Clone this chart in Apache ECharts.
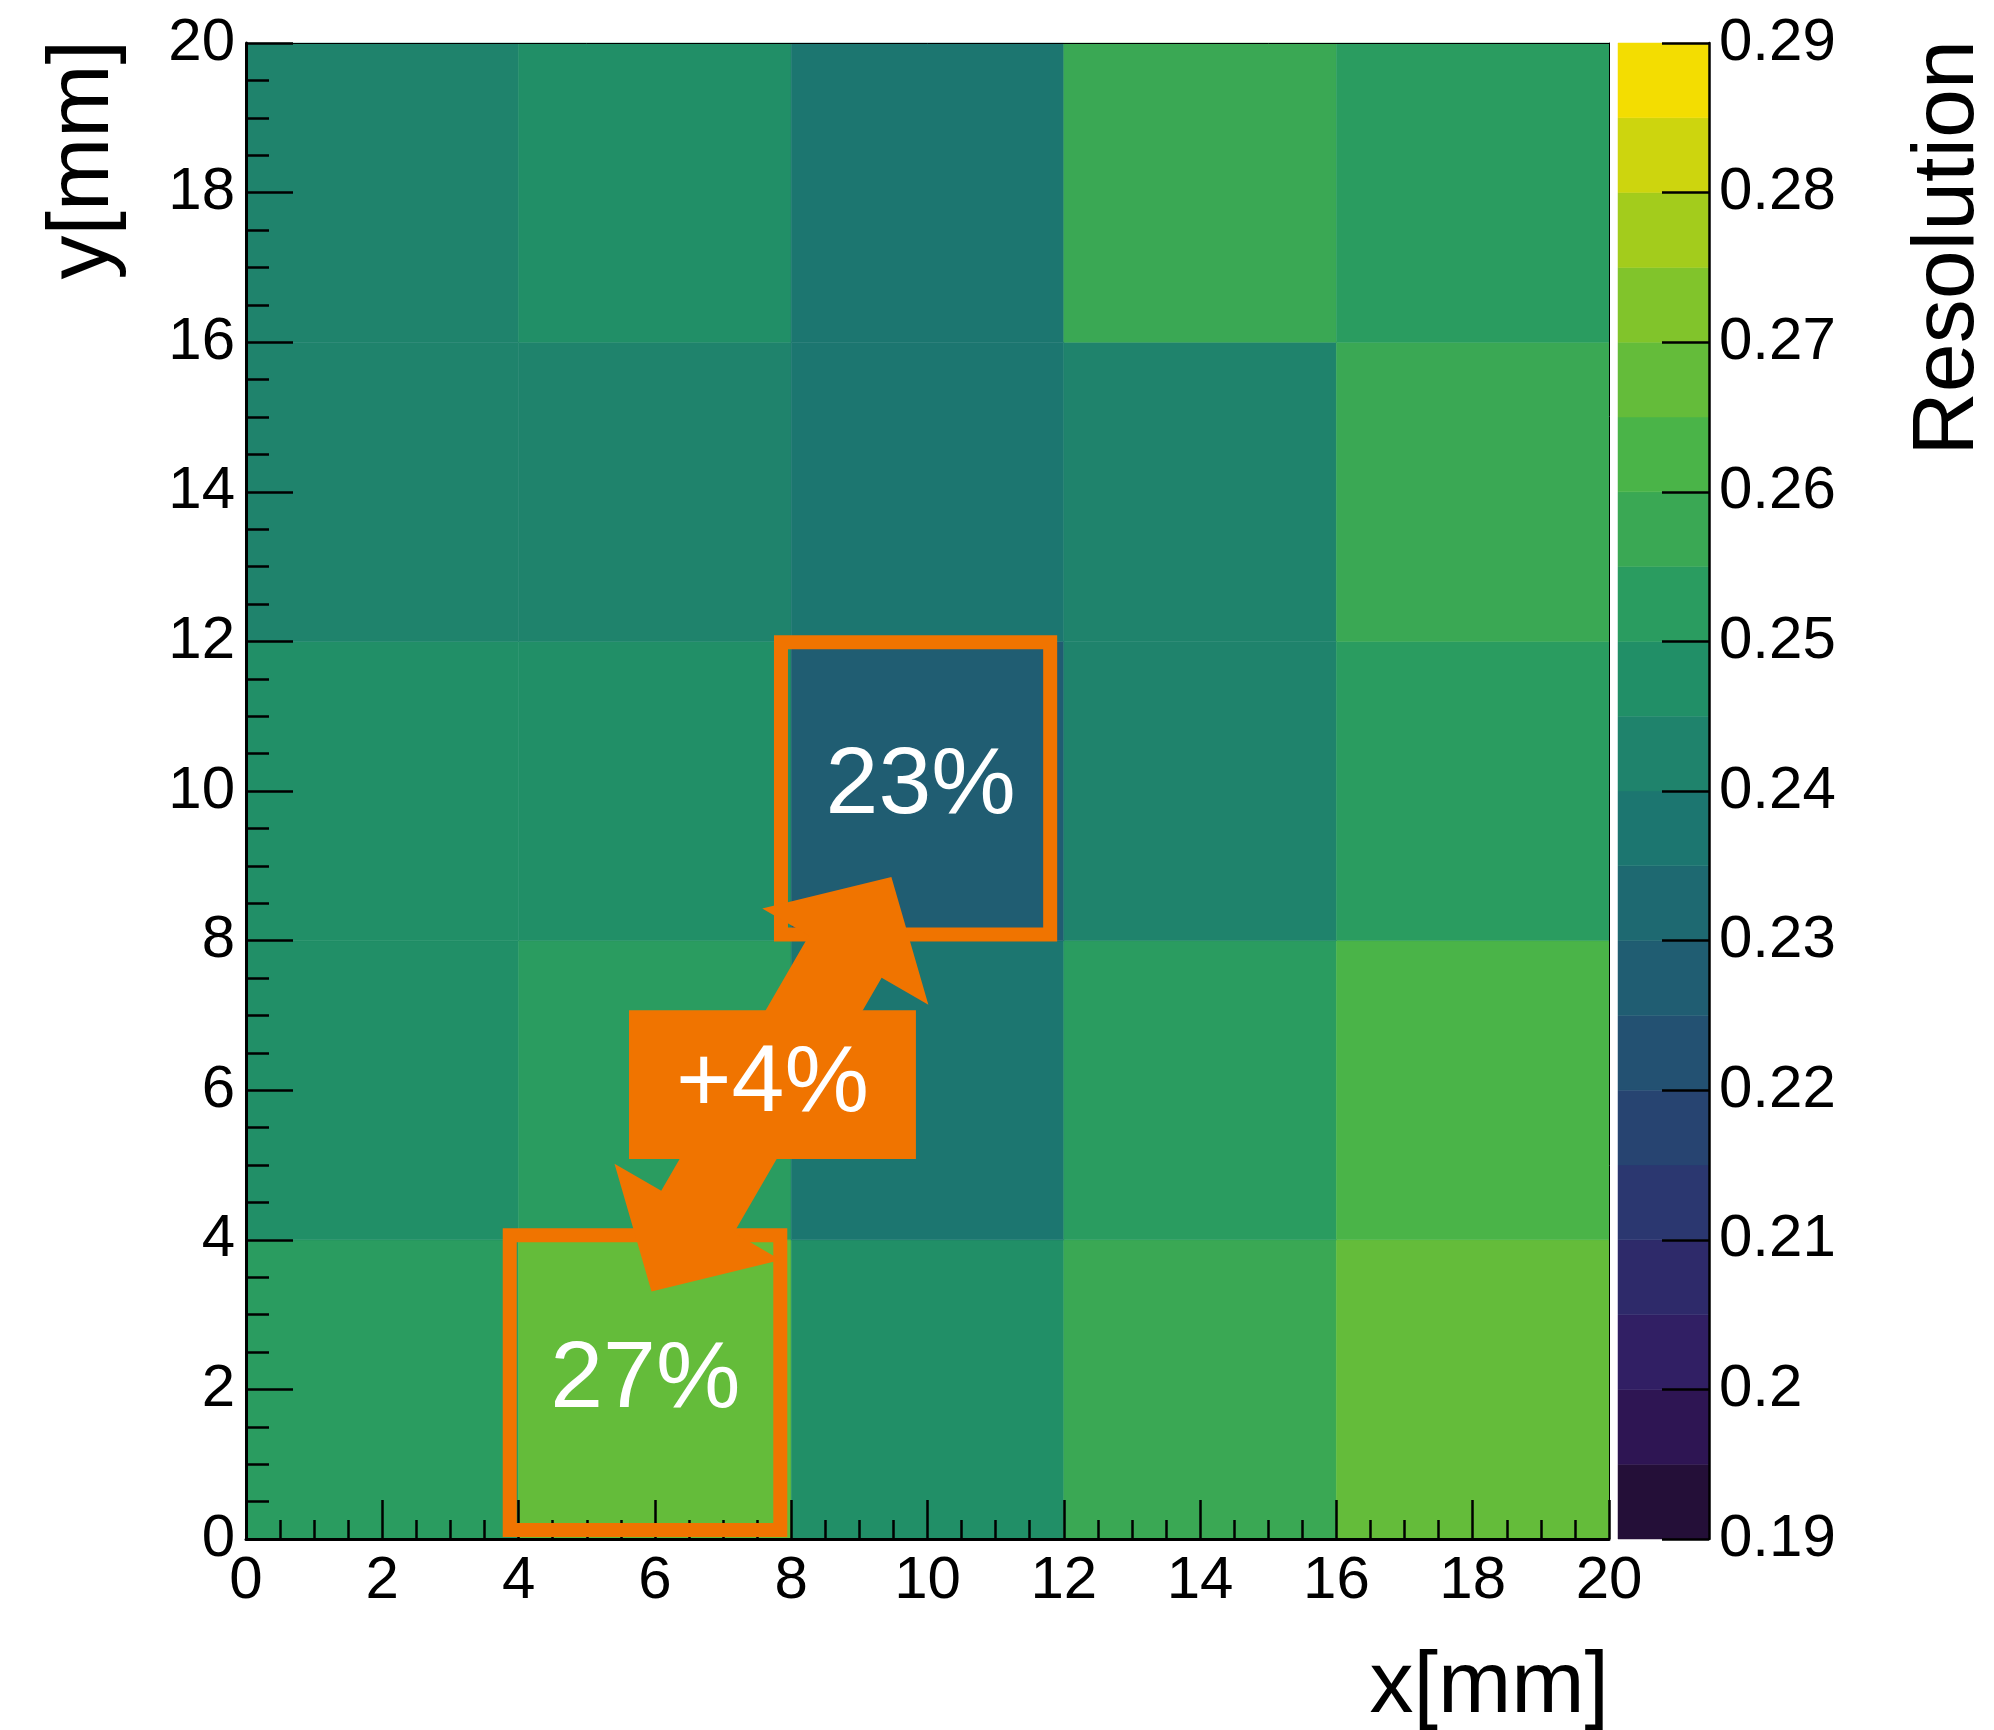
<!DOCTYPE html>
<html>
<head>
<meta charset="utf-8">
<title>Resolution map</title>
<script src="https://cdn.jsdelivr.net/npm/echarts@6/dist/echarts.min.js"></script>
<style>
  html, body { margin: 0; padding: 0; background: #fff; }
  #chart { width: 1994px; height: 1730px; }
</style>
</head>
<body>
<div id="chart"></div>
<script>
  // bin edges [mm]
  var xEdges = [0, 4, 8, 12, 16, 20]
  var yEdges = [0, 4, 8, 12, 16, 20]
  // resolution per bin, bottom row (y 0-4) first
  var resolution = [
    [0.252, 0.268, 0.247, 0.257, 0.268],
    [0.247, 0.252, 0.238, 0.252, 0.263],
    [0.247, 0.247, 0.228, 0.242, 0.252],
    [0.242, 0.242, 0.238, 0.242, 0.257],
    [0.242, 0.247, 0.238, 0.257, 0.252]
  ]
  // colour scale contours
  var zLevels = [0.19, 0.195, 0.2, 0.205, 0.21, 0.215, 0.22, 0.225, 0.23, 0.235, 0.24,
    0.245, 0.25, 0.255, 0.26, 0.265, 0.27, 0.275, 0.28, 0.285, 0.29]
  var palette = ['#240F38', '#2E1553', '#311F64', '#2E2A6A', '#2B3770', '#274471', '#235172',
    '#205D72', '#1E6971', '#1C7670', '#1F836C', '#218F67', '#2A9C60', '#3AA854', '#4AB448',
    '#64BC3A', '#81C42B', '#A3CC1C', '#CDD50E', '#F3DD01']

  // annotations (data coordinates)
  var box23 = [7.85, 8.08, 11.8, 11.99]
  var box27 = [3.87, 0.12, 7.84, 4.06]
  var tagBox = [5.62, 5.08, 9.83, 7.07]
  var arrowFrom = [5.95, 3.31]
  var arrowTo = [9.47, 8.85]
  var label23 = [9.9, 10.05]
  var label27 = [5.86, 2.12]

  var FONT = '"Liberation Sans", Arial, Helvetica, sans-serif'
  var ORANGE = '#F07400'

  var cells = []
  for (var j = 0; j < resolution.length; j++) {
    for (var i = 0; i < resolution[j].length; i++) {
      cells.push([(xEdges[i] + xEdges[i + 1]) / 2, (yEdges[j] + yEdges[j + 1]) / 2, resolution[j][i], i, j])
    }
  }
  var bands = []
  for (var k = 0; k < palette.length; k++) {
    bands.push([0.5, zLevels[k], zLevels[k + 1], k])
  }
  var pieces = bands.map(function (b) { return { gte: b[1], lt: b[2], color: palette[b[3]] } })

  function renderCell(params, api) {
    var i = api.value(3), j = api.value(4)
    var p0 = api.coord([xEdges[i], yEdges[j + 1]])
    var p1 = api.coord([xEdges[i + 1], yEdges[j]])
    var c = api.visual('color')
    return {
      type: 'rect',
      shape: { x: p0[0], y: p0[1], width: p1[0] - p0[0], height: p1[1] - p0[1] },
      style: { fill: c, stroke: c, lineWidth: 0.5 }
    }
  }
  function renderBand(params, api) {
    var p0 = api.coord([0, api.value(2)])
    var p1 = api.coord([1, api.value(1)])
    var c = palette[api.value(3)]
    return {
      type: 'rect',
      shape: { x: p0[0], y: p0[1], width: p1[0] - p0[0], height: p1[1] - p0[1] },
      style: { fill: c, stroke: c, lineWidth: 0.5 }
    }
  }

  var black = { color: '#000' }
  var option = {
    animation: false,
    backgroundColor: '#fff',
    grid: [
      { left: 246, top: 43, width: 1363, height: 1496, outerBoundsMode: 'none' },
      { left: 1618, top: 43, width: 91, height: 1496, outerBoundsMode: 'none' }
    ],
    visualMap: {
      type: 'piecewise', show: false, seriesIndex: 0, dimension: 2, pieces: pieces
    },
    xAxis: [{
      gridIndex: 0, type: 'value', min: 0, max: 20, interval: 2, z: 10,
      axisLine: { onZero: false, lineStyle: { color: '#000', width: 3 } },
      axisTick: { inside: true, length: 39, lineStyle: { color: '#000', width: 2.5 } },
      minorTick: { show: true, splitNumber: 4, length: 19, lineStyle: { color: '#000', width: 2.5 } },
      splitLine: { show: false },
      axisLabel: { fontSize: 60, color: '#000', fontFamily: FONT, margin: 12 }
    }, {
      gridIndex: 0, type: 'value', min: 0, max: 20, position: 'top', z: 10,
      axisLine: { onZero: false, lineStyle: { color: '#000', width: 1 } },
      axisTick: { show: false }, axisLabel: { show: false }, splitLine: { show: false }
    }, {
      gridIndex: 1, type: 'value', min: 0, max: 1, show: false
    }],
    yAxis: [{
      gridIndex: 0, type: 'value', min: 0, max: 20, interval: 2, z: 10,
      axisLine: { show: true, onZero: false, lineStyle: { color: '#000', width: 3 } },
      axisTick: { show: true, inside: true, length: 47, lineStyle: { color: '#000', width: 2.5 } },
      minorTick: { show: true, splitNumber: 4, length: 23, lineStyle: { color: '#000', width: 2.5 } },
      splitLine: { show: false },
      axisLabel: { fontSize: 60, color: '#000', fontFamily: FONT, margin: 11 }
    }, {
      gridIndex: 0, type: 'value', min: 0, max: 20, position: 'right', z: 10,
      axisLine: { show: true, onZero: false, lineStyle: { color: '#000', width: 1 } },
      axisTick: { show: false }, axisLabel: { show: false }, splitLine: { show: false }
    }, {
      gridIndex: 1, type: 'value', min: 0.19, max: 0.29, interval: 0.01, position: 'right', z: 10,
      axisLine: { show: true, onZero: false, lineStyle: { color: '#000', width: 2.5 } },
      axisTick: { show: true, inside: true, length: 47, lineStyle: { color: '#000', width: 2.5 } },
      splitLine: { show: false },
      axisLabel: {
        fontSize: 60, color: '#000', fontFamily: FONT, margin: 10,
        formatter: function (v) { return String(+v.toFixed(3)) }
      }
    }],
    series: [{
      type: 'custom', xAxisIndex: 0, yAxisIndex: 0,
      renderItem: renderCell, encode: { x: 0, y: 1 }, data: cells
    }, {
      type: 'custom', xAxisIndex: 2, yAxisIndex: 2,
      renderItem: renderBand, encode: { x: 0, y: [1, 2] }, data: bands
    }]
  }

  var chart = echarts.init(document.getElementById('chart'))
  chart.setOption(option)

  function px(p) { return chart.convertToPixel({ gridIndex: 0 }, p) }
  function rectFrom(b) {
    var p0 = px([b[0], b[3]]), p1 = px([b[2], b[1]])
    return { x: p0[0], y: p0[1], width: p1[0] - p0[0], height: p1[1] - p0[1] }
  }
  // double headed arrow, sizes in pixels
  function arrowPoints(from, to, headLen, headHalf, shaftHalf) {
    var a = px(from), b = px(to)
    var dx = b[0] - a[0], dy = b[1] - a[1]
    var len = Math.sqrt(dx * dx + dy * dy)
    var d = [dx / len, dy / len], n = [-d[1], d[0]]
    function pt(base, along, across) {
      return [base[0] + d[0] * along + n[0] * across, base[1] + d[1] * along + n[1] * across]
    }
    return [
      b, pt(b, -headLen, headHalf), pt(b, -headLen, shaftHalf),
      pt(a, headLen, shaftHalf), pt(a, headLen, headHalf), a,
      pt(a, headLen, -headHalf), pt(a, headLen, -shaftHalf),
      pt(b, -headLen, -shaftHalf), pt(b, -headLen, -headHalf)
    ]
  }
  function textAt(p, txt, size, color) {
    return {
      type: 'text', x: p[0], y: p[1], z: 120,
      style: { text: txt, font: size + 'px ' + FONT, fill: color, align: 'center', verticalAlign: 'middle' }
    }
  }

  var tagRect = rectFrom(tagBox)
  chart.setOption({
    graphic: [
      { type: 'rect', z: 100, shape: rectFrom(box23), style: { fill: 'none', stroke: ORANGE, lineWidth: 14 } },
      { type: 'rect', z: 100, shape: rectFrom(box27), style: { fill: 'none', stroke: ORANGE, lineWidth: 14 } },
      { type: 'polygon', z: 101, shape: { points: arrowPoints(arrowFrom, arrowTo, 92, 96, 42) }, style: { fill: ORANGE } },
      { type: 'rect', z: 102, shape: tagRect, style: { fill: ORANGE } },
      textAt([tagRect.x + tagRect.width / 2, tagRect.y + tagRect.height / 2], '+4%', 95, '#fff'),
      textAt(px(label23), '23%', 95, '#fff'),
      textAt(px(label27), '27%', 95, '#fff'),
      {
        type: 'text', x: 1609, y: 1688, z: 120,
        style: { text: 'x[mm]', font: '88px ' + FONT, fill: '#000', align: 'right', verticalAlign: 'middle' }
      },
      {
        type: 'text', x: 84, y: 40, rotation: Math.PI / 2, z: 120,
        style: { text: 'y[mm]', font: '88px ' + FONT, fill: '#000', align: 'right', verticalAlign: 'middle' }
      },
      {
        type: 'text', x: 1949, y: 40, rotation: Math.PI / 2, z: 120,
        style: { text: 'Resolution', font: '88px ' + FONT, fill: '#000', align: 'right', verticalAlign: 'middle' }
      }
    ]
  })
</script>
</body>
</html>
